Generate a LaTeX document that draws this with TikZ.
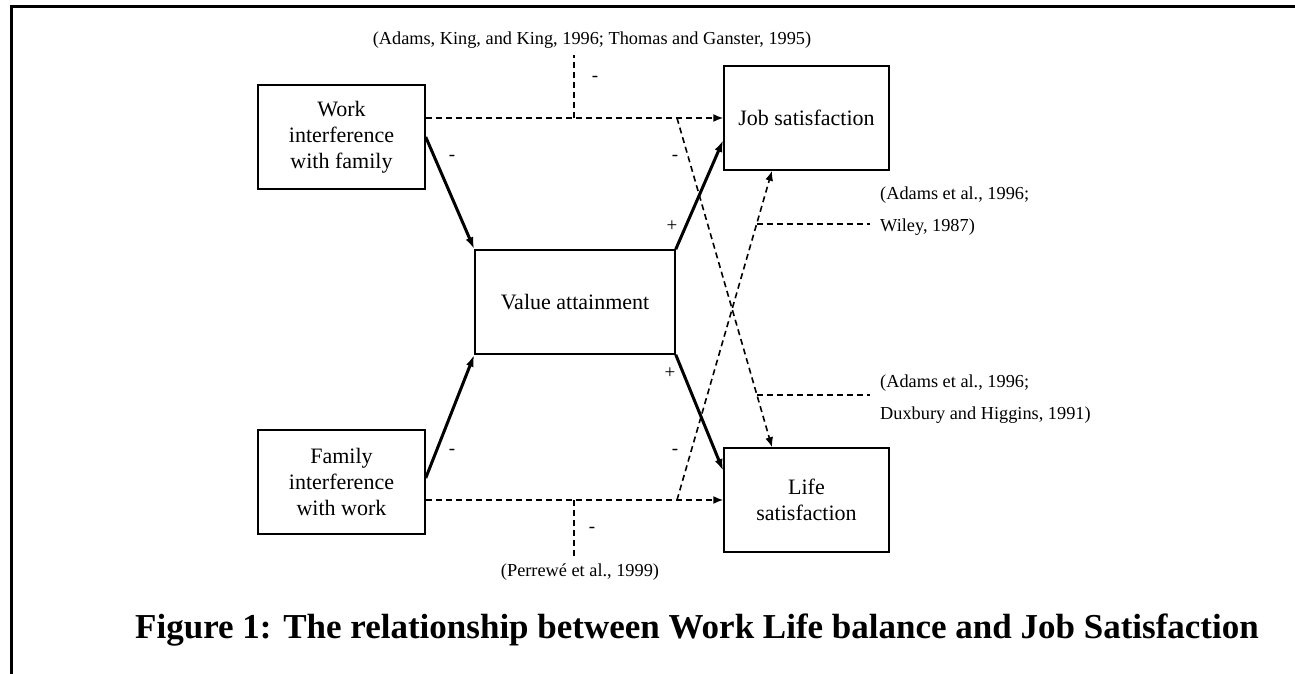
\documentclass[tikz,border=0pt]{standalone}
\usepackage{fontspec}
\setmainfont{Liberation Serif}
\usetikzlibrary{positioning}
\usetikzlibrary{arrows.meta}

\tikzset{
 box/.style={draw,line width=1.5pt,minimum width=167pt,minimum height=104pt,inner sep=0pt,align=center,font=\fontsize{22}{26}\selectfont},
 cite/.style={inner sep=0pt,align=left,font=\fontsize{18.3}{32}\selectfont},
 sign/.style={inner sep=0pt,font=\fontsize{19}{19}\selectfont},
 strong/.style={line width=3pt,-{Latex[length=12pt,width=8pt]}},
 weak/.style={line width=1.6pt,dash pattern=on 6pt off 4pt},
 weakarrow/.style={weak,-{Latex[length=10pt,width=8pt]}}
}

\begin{document}
\begin{tikzpicture}[x=1pt,y=-1pt]
 \useasboundingbox (0,0) rectangle (1295,674);
 \draw[line width=3pt](1295,7)--(11,7)--(11,674);

 \node[box] (wif) at (341.5,137) {Work\\interference\\with family};
 \node[box] (fiw) at (341.5,482) {Family\\interference\\with work};
 \node[box,minimum width=200pt] (val) at (575,302) {Value attainment};
 \node[box,minimum width=165pt] (job) at (806.5,118) {Job satisfaction};
 \node[box,minimum width=165pt] (life) at (806.5,500) {Life\\satisfaction};

 \node[cite,inner ysep=6pt] (citeA) at (592,40) {(Adams, King, and King, 1996; Thomas and Ganster, 1995)};
 \node[cite,inner ysep=7pt] (citeP) at (580,572) {(Perrewé et al., 1999)};
 \node[cite,anchor=west,inner xsep=10pt] (citeW) at (870,211) {(Adams et al., 1996;\\Wiley, 1987)};
 \node[cite,anchor=west,inner xsep=10pt] (citeD) at (870,399) {(Adams et al., 1996;\\Duxbury and Higgins, 1991)};

 \draw[strong] (wif.east) -- (val.north west);
 \draw[strong] ([yshift=4pt]fiw.east) -- (val.south west);
 \draw[strong] (val.north east) -- ([yshift=-22pt]job.west);
 \draw[strong] (val.south east) -- ([yshift=29pt]life.west);

 \draw[weakarrow] ([yshift=19pt]wif.east) -- (job.west);
 \draw[weakarrow] ([yshift=-18pt]fiw.east) -- (life.west);
 \coordinate (c1) at (574,118);
 \coordinate (c2) at (677,118);
 \coordinate (c3) at (574,500);
 \coordinate (c4) at (677,500);
 \draw[weak] (c1) -- (c1 |- citeA.south);
 \draw[weak] (c3) -- (c3 |- citeP.north);
 \draw[weakarrow] (c2) -- coordinate[pos=0.842] (c6) ([xshift=-34.5pt]life.north);
 \draw[weakarrow] (c4) -- coordinate[pos=0.839] (c5) ([xshift=-34.5pt]job.south);
 \draw[weak] (c5) -- (c5 -| citeW.west);
 \draw[weak] (c6) -- (c6 -| citeD.west);

 \node[sign] (s1) at (452,158) {-};
 \node[sign] (s2) at (452,452) {-};
 \node[sign] (s3) at (672,226) {+};
 \node[sign] (s4) at (670,373) {+};
 \node[sign] (s5) at (675,158) {-};
 \node[sign] (s6) at (675,452) {-};
 \node[sign] (s7) at (595,79) {-};
 \node[sign] (s8) at (592,530) {-};

 \node[font=\bfseries\fontsize{35}{35}\selectfont,inner sep=0pt] (cap) at (697,630) {Figure 1: The relationship between Work Life balance and Job Satisfaction};
\end{tikzpicture}
\end{document}
